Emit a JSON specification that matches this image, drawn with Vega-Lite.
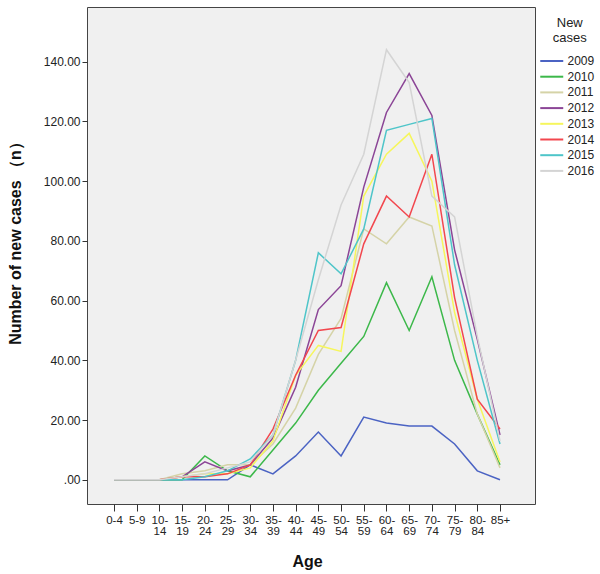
{
  "$schema": "https://vega.github.io/schema/vega-lite/v6.json",
  "width": 448,
  "height": 497,
  "autosize": {"type": "none"},
  "padding": {"left": 87, "top": 7, "right": 65, "bottom": 70},
  "background": "white",
  "config": {
    "font": "Liberation Sans",
    "view": {"fill": "#f0f0f0", "stroke": "#444444", "strokeWidth": 1}
  },
  "data": {"values": [
    {"age":"0-4","year":"2009","n":0},{"age":"5-9","year":"2009","n":0},{"age":"10-14","year":"2009","n":0},{"age":"15-19","year":"2009","n":0},{"age":"20-24","year":"2009","n":0},{"age":"25-29","year":"2009","n":0},{"age":"30-34","year":"2009","n":5},{"age":"35-39","year":"2009","n":2},{"age":"40-44","year":"2009","n":8},{"age":"45-49","year":"2009","n":16},{"age":"50-54","year":"2009","n":8},{"age":"55-59","year":"2009","n":21},{"age":"60-64","year":"2009","n":19},{"age":"65-69","year":"2009","n":18},{"age":"70-74","year":"2009","n":18},{"age":"75-79","year":"2009","n":12},{"age":"80-84","year":"2009","n":3},{"age":"85+","year":"2009","n":0},
    {"age":"0-4","year":"2010","n":0},{"age":"5-9","year":"2010","n":0},{"age":"10-14","year":"2010","n":0},{"age":"15-19","year":"2010","n":0},{"age":"20-24","year":"2010","n":8},{"age":"25-29","year":"2010","n":3},{"age":"30-34","year":"2010","n":1},{"age":"35-39","year":"2010","n":10},{"age":"40-44","year":"2010","n":19},{"age":"45-49","year":"2010","n":30},{"age":"50-54","year":"2010","n":39},{"age":"55-59","year":"2010","n":48},{"age":"60-64","year":"2010","n":66},{"age":"65-69","year":"2010","n":50},{"age":"70-74","year":"2010","n":68},{"age":"75-79","year":"2010","n":40},{"age":"80-84","year":"2010","n":22},{"age":"85+","year":"2010","n":5},
    {"age":"0-4","year":"2011","n":0},{"age":"5-9","year":"2011","n":0},{"age":"10-14","year":"2011","n":0},{"age":"15-19","year":"2011","n":2},{"age":"20-24","year":"2011","n":3},{"age":"25-29","year":"2011","n":5},{"age":"30-34","year":"2011","n":5},{"age":"35-39","year":"2011","n":12},{"age":"40-44","year":"2011","n":24},{"age":"45-49","year":"2011","n":42},{"age":"50-54","year":"2011","n":54},{"age":"55-59","year":"2011","n":84},{"age":"60-64","year":"2011","n":79},{"age":"65-69","year":"2011","n":88},{"age":"70-74","year":"2011","n":85},{"age":"75-79","year":"2011","n":50},{"age":"80-84","year":"2011","n":22},{"age":"85+","year":"2011","n":4},
    {"age":"0-4","year":"2012","n":0},{"age":"5-9","year":"2012","n":0},{"age":"10-14","year":"2012","n":0},{"age":"15-19","year":"2012","n":1},{"age":"20-24","year":"2012","n":6},{"age":"25-29","year":"2012","n":3},{"age":"30-34","year":"2012","n":5},{"age":"35-39","year":"2012","n":14},{"age":"40-44","year":"2012","n":31},{"age":"45-49","year":"2012","n":57},{"age":"50-54","year":"2012","n":65},{"age":"55-59","year":"2012","n":98},{"age":"60-64","year":"2012","n":123},{"age":"65-69","year":"2012","n":136},{"age":"70-74","year":"2012","n":122},{"age":"75-79","year":"2012","n":77},{"age":"80-84","year":"2012","n":47},{"age":"85+","year":"2012","n":15},
    {"age":"0-4","year":"2013","n":0},{"age":"5-9","year":"2013","n":0},{"age":"10-14","year":"2013","n":0},{"age":"15-19","year":"2013","n":1},{"age":"20-24","year":"2013","n":2},{"age":"25-29","year":"2013","n":2},{"age":"30-34","year":"2013","n":4},{"age":"35-39","year":"2013","n":13},{"age":"40-44","year":"2013","n":35},{"age":"45-49","year":"2013","n":45},{"age":"50-54","year":"2013","n":43},{"age":"55-59","year":"2013","n":95},{"age":"60-64","year":"2013","n":109},{"age":"65-69","year":"2013","n":116},{"age":"70-74","year":"2013","n":100},{"age":"75-79","year":"2013","n":56},{"age":"80-84","year":"2013","n":27},{"age":"85+","year":"2013","n":6},
    {"age":"0-4","year":"2014","n":0},{"age":"5-9","year":"2014","n":0},{"age":"10-14","year":"2014","n":0},{"age":"15-19","year":"2014","n":1},{"age":"20-24","year":"2014","n":1},{"age":"25-29","year":"2014","n":2},{"age":"30-34","year":"2014","n":5},{"age":"35-39","year":"2014","n":17},{"age":"40-44","year":"2014","n":35},{"age":"45-49","year":"2014","n":50},{"age":"50-54","year":"2014","n":51},{"age":"55-59","year":"2014","n":79},{"age":"60-64","year":"2014","n":95},{"age":"65-69","year":"2014","n":88},{"age":"70-74","year":"2014","n":109},{"age":"75-79","year":"2014","n":61},{"age":"80-84","year":"2014","n":27},{"age":"85+","year":"2014","n":17},
    {"age":"0-4","year":"2015","n":0},{"age":"5-9","year":"2015","n":0},{"age":"10-14","year":"2015","n":0},{"age":"15-19","year":"2015","n":0},{"age":"20-24","year":"2015","n":1},{"age":"25-29","year":"2015","n":3},{"age":"30-34","year":"2015","n":7},{"age":"35-39","year":"2015","n":15},{"age":"40-44","year":"2015","n":40},{"age":"45-49","year":"2015","n":76},{"age":"50-54","year":"2015","n":69},{"age":"55-59","year":"2015","n":84},{"age":"60-64","year":"2015","n":117},{"age":"65-69","year":"2015","n":119},{"age":"70-74","year":"2015","n":121},{"age":"75-79","year":"2015","n":72},{"age":"80-84","year":"2015","n":40},{"age":"85+","year":"2015","n":12},
    {"age":"0-4","year":"2016","n":0},{"age":"5-9","year":"2016","n":0},{"age":"10-14","year":"2016","n":0},{"age":"15-19","year":"2016","n":1},{"age":"20-24","year":"2016","n":2},{"age":"25-29","year":"2016","n":4},{"age":"30-34","year":"2016","n":6},{"age":"35-39","year":"2016","n":15},{"age":"40-44","year":"2016","n":40},{"age":"45-49","year":"2016","n":67},{"age":"50-54","year":"2016","n":92},{"age":"55-59","year":"2016","n":109},{"age":"60-64","year":"2016","n":144},{"age":"65-69","year":"2016","n":133},{"age":"70-74","year":"2016","n":95},{"age":"75-79","year":"2016","n":88},{"age":"80-84","year":"2016","n":48},{"age":"85+","year":"2016","n":13}
  ]},
  "mark": {"type": "line", "strokeWidth": 1.5},
  "encoding": {
    "x": {
      "field": "age", "type": "ordinal", "sort": null,
      "scale": {"type": "point", "range": [27, 413], "padding": 0},
      "axis": {
        "title": "Age", "titleFontSize": 16, "titleFontWeight": "bold", "titleColor": "#111",
        "titleY": 57, "titleBaseline": "middle",
        "labelAngle": 0, "labelFontSize": 11.5, "labelColor": "#222", "labelLineHeight": 11,
        "labelPadding": 3, "tickSize": 7, "tickColor": "#333", "domain": false, "grid": false,
        "labelOverlap": false,
        "labelExpr": "length(datum.value) > 3 && indexof(datum.value, '-') > 0 ? [slice(datum.value, 0, indexof(datum.value, '-') + 1), slice(datum.value, indexof(datum.value, '-') + 1)] : datum.value"
      }
    },
    "y": {
      "field": "n", "type": "quantitative",
      "scale": {"domain": [-8.1, 158.3], "nice": false, "zero": false},
      "axis": {
        "title": "Number of new cases （n）", "titleFontSize": 16, "titleFontWeight": "bold", "titleColor": "#111",
        "titleX": -72, "titleY": 232, "titleAlign": "center", "titleBaseline": "middle",
        "values": [0, 20, 40, 60, 80, 100, 120, 140],
        "labelExpr": "datum.value == 0 ? '.00' : format(datum.value, '.2f')",
        "labelFontSize": 12, "labelColor": "#222", "labelPadding": 2,
        "tickSize": 5, "tickColor": "#333", "domain": false, "grid": false
      }
    },
    "color": {
      "field": "year", "type": "nominal",
      "scale": {
        "domain": ["2009","2010","2011","2012","2013","2014","2015","2016"],
        "range": ["#4b63c3","#3cb84a","#d5d3a7","#8b4596","#f6f65c","#f2474e","#4ec5c9","#d4d4d4"]
      },
      "legend": {
        "title": ["New", "cases"], "orient": "none", "legendX": 457.75, "legendY": 10,
        "titleFontSize": 13, "titleFontWeight": "normal", "titleColor": "#222",
        "titleAlign": "center", "titleAnchor": "middle", "titleLineHeight": 15, "titlePadding": 9,
        "labelFontSize": 12, "labelColor": "#222", "labelOffset": 8.75,
        "symbolType": "M-2,0H2", "symbolSize": 132, "symbolStrokeWidth": 2,
        "rowPadding": 2.7, "padding": 0
      }
    }
  }
}
